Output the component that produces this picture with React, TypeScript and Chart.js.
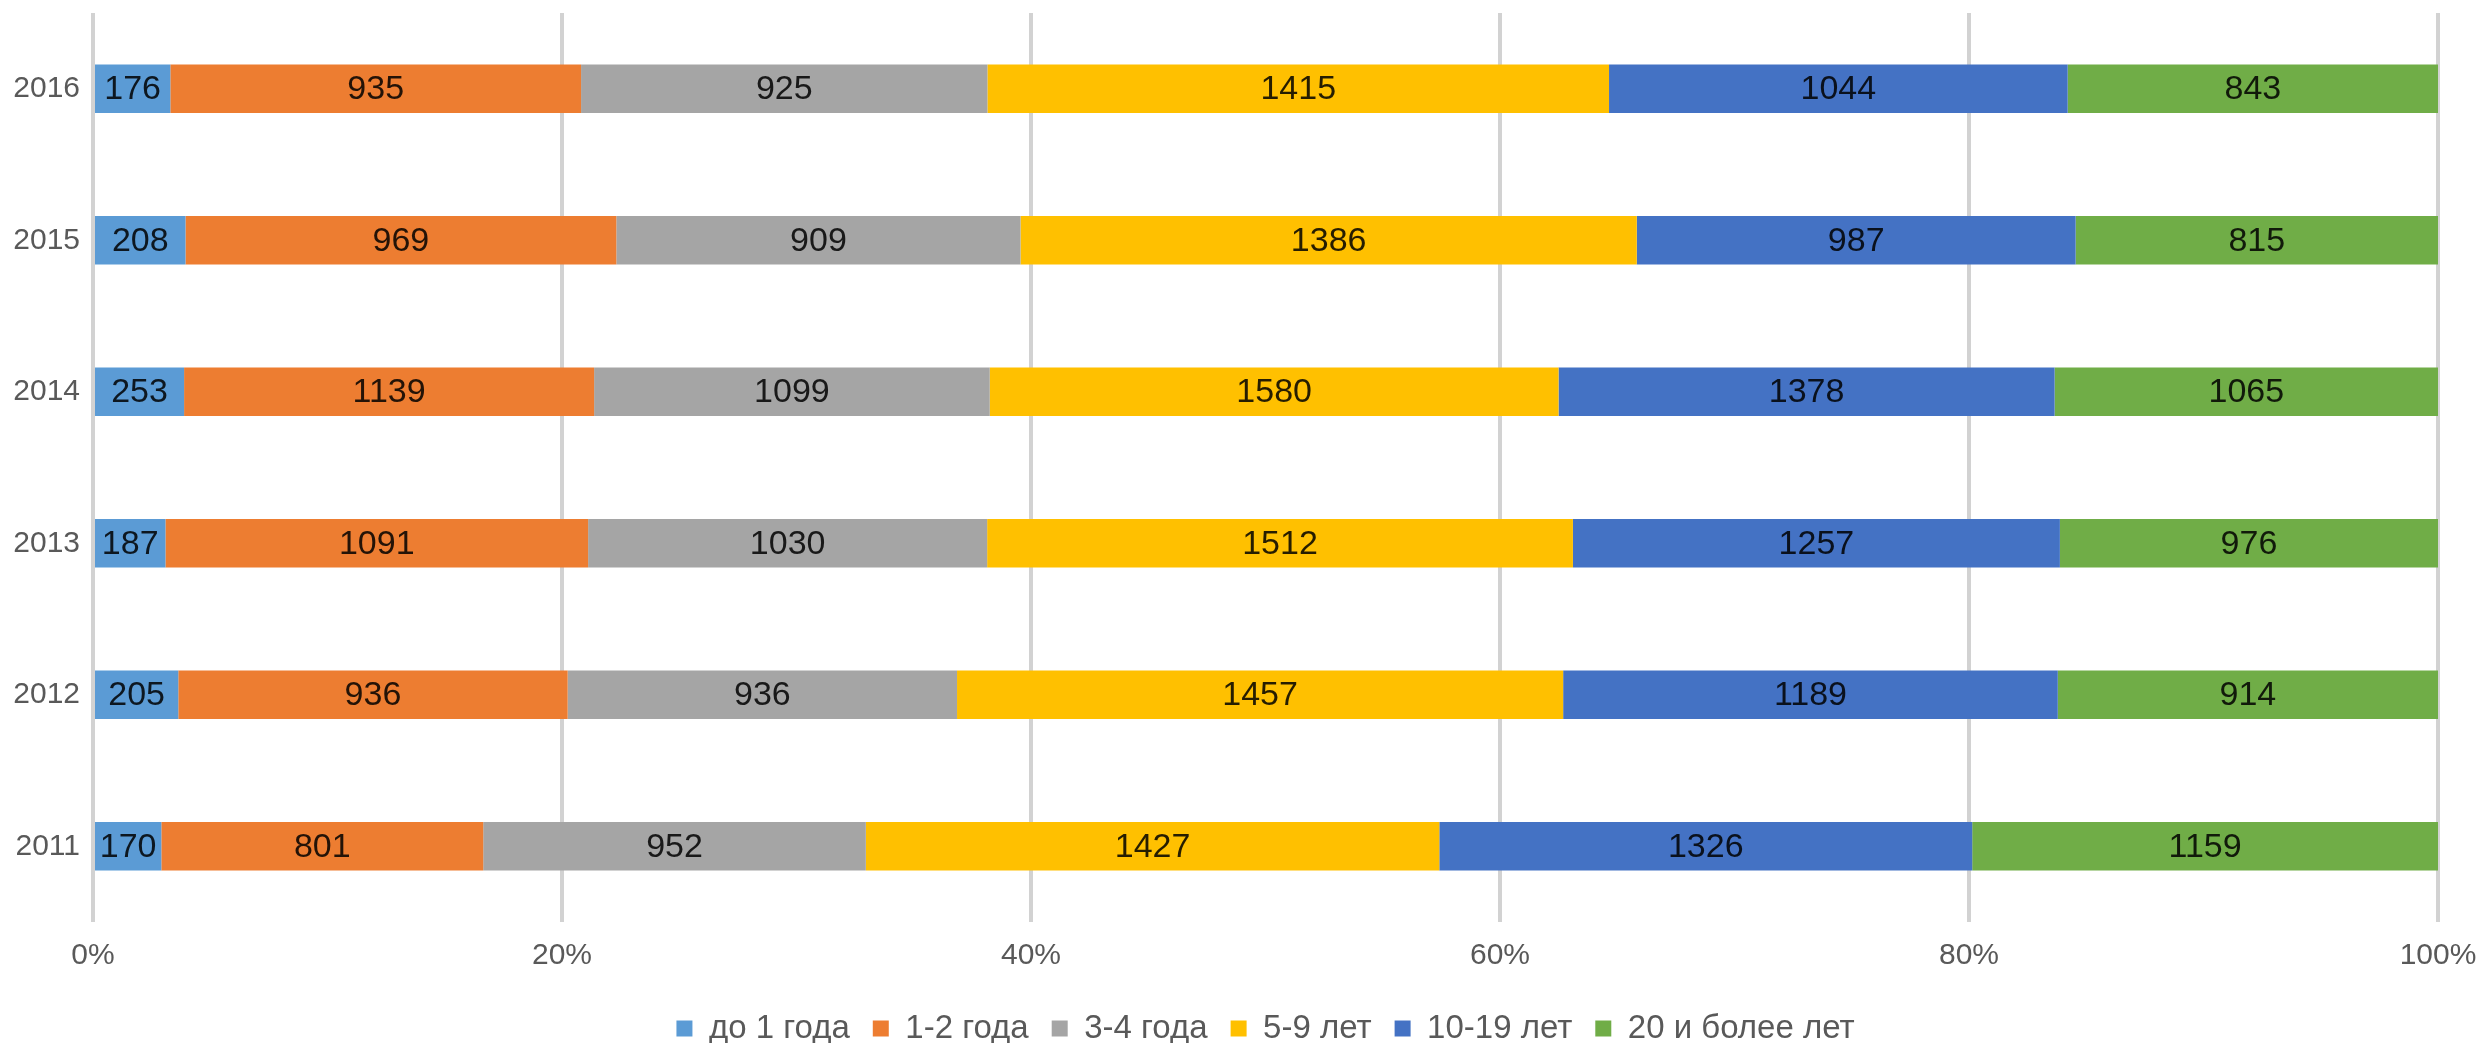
import React, { useEffect, useRef } from 'react';
import { Chart, registerables } from 'chart.js';

Chart.register(...registerables);

const years = ['2016', '2015', '2014', '2013', '2012', '2011'];
const seriesNames = ['до 1 года', '1-2 года', '3-4 года', '5-9 лет', '10-19 лет', '20 и более лет'];
const under1 = [176, 208, 253, 187, 205, 170];
const from1to2 = [935, 969, 1139, 1091, 936, 801];
const from3to4 = [925, 909, 1099, 1030, 936, 952];
const from5to9 = [1415, 1386, 1580, 1512, 1457, 1427];
const from10to19 = [1044, 987, 1378, 1257, 1189, 1326];
const over20 = [843, 815, 1065, 976, 914, 1159];
const xTickValues = [0, 20, 40, 60, 80, 100];
const colors = ['#5B9BD5', '#ED7D31', '#A5A5A5', '#FFC000', '#4472C4', '#70AD47'];

const seriesCounts = [under1, from1to2, from3to4, from5to9, from10to19, over20];
const FONT = '"Liberation Sans", Arial, sans-serif';
const PLOT_BOTTOM = 922;

const valueLabels = {
  id: 'valueLabels',
  afterDatasetsDraw(chart: any) {
    const ctx = chart.ctx;
    ctx.save();
    ctx.font = `34px ${FONT}`;
    ctx.textAlign = 'center';
    ctx.textBaseline = 'middle';
    ctx.fillStyle = 'rgba(0,0,0,0.85)';
    chart.data.datasets.forEach((_ds: any, di: number) => {
      const meta = chart.getDatasetMeta(di);
      meta.data.forEach((el: any, i: number) => {
        const p = el.getProps(['x', 'y', 'base'], true);
        ctx.fillText(String(seriesCounts[di][i]), (p.x + p.base) / 2, p.y + 1);
      });
    });
    ctx.restore();
  },
};

export default function App() {
  const ref = useRef<HTMLCanvasElement>(null);
  useEffect(() => {
    if (!ref.current) return;
    const totals = years.map((_, i) => seriesCounts.reduce((s, arr) => s + arr[i], 0));
    const datasets = seriesNames.map((name, si) => ({
      label: name,
      data: seriesCounts[si].map((v, i) => (v / totals[i]) * 100),
      backgroundColor: colors[si],
      borderWidth: 0,
      categoryPercentage: 1,
      barPercentage: 0.32,
    }));
    let xHeight: number | null = null;
    const chart = new Chart(ref.current, {
      type: 'bar',
      data: { labels: years, datasets },
      options: {
        animation: false,
        responsive: true,
        maintainAspectRatio: false,
        indexAxis: 'y',
        layout: { padding: { top: 13, right: 43, bottom: -12, left: 0 } },
        plugins: {
          tooltip: { enabled: false },
          legend: {
            position: 'bottom',
            fullSize: false,
            labels: {
              font: { family: FONT, size: 33 },
              color: '#595959',
              boxWidth: 16,
              boxHeight: 16,
              padding: 23,
            },
          },
        },
        scales: {
          x: {
            stacked: true,
            min: 0,
            max: 100,
            afterBuildTicks(scale: any) {
              scale.ticks = xTickValues.map((v) => ({ value: v }));
            },
            afterFit(scale: any) {
              scale.paddingLeft = 0;
              scale.paddingRight = 0;
              if (xHeight !== null) scale.height = xHeight;
            },
            ticks: {
              font: { family: FONT, size: 30 },
              color: '#595959',
              padding: 16,
              maxRotation: 0,
              callback: (v: any) => `${v}%`,
            },
            grid: { color: '#d2d2d2', lineWidth: 4, drawTicks: false },
            border: { display: false },
          },
          y: {
            stacked: true,
            afterFit(scale: any) {
              scale.width = 93;
              scale.paddingTop = 0;
              scale.paddingBottom = 0;
            },
            ticks: {
              font: { family: FONT, size: 30 },
              color: '#595959',
              padding: 13,
            },
            grid: { display: false, drawTicks: false },
            border: { display: false },
          },
        },
      },
      plugins: [valueLabels],
    });
    const lg: any = chart.legend;
    xHeight = lg.top - PLOT_BOTTOM;
    chart.update();
    return () => chart.destroy();
  }, []);
  return (
    <div style={{ position: 'fixed', left: 0, top: 0, width: 2481, height: 1043, background: '#fff' }}>
      <canvas ref={ref} />
    </div>
  );
}
